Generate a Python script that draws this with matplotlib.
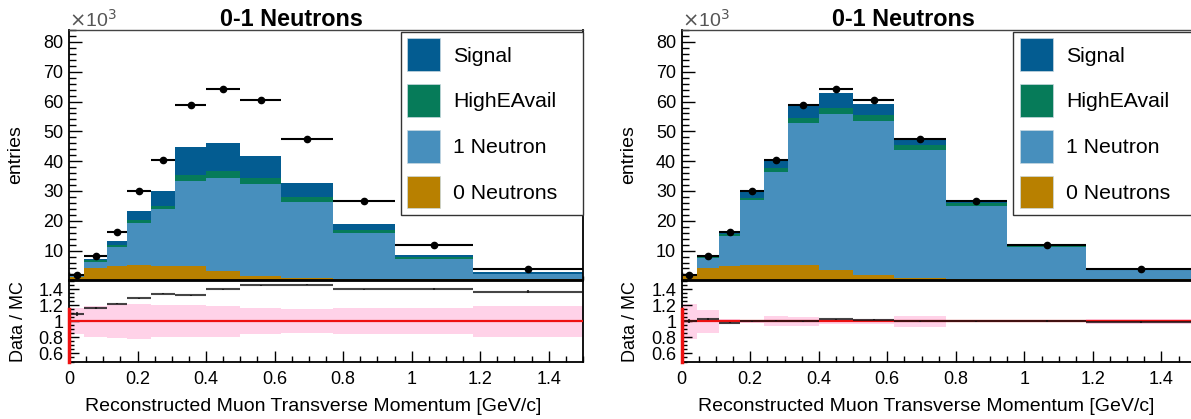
import matplotlib
matplotlib.use('Agg')
import matplotlib.pyplot as plt
import numpy as np
from matplotlib.patches import Patch
from matplotlib.ticker import MultipleLocator, FormatStrFormatter

plt.rcParams['font.family'] = ['Liberation Sans', 'DejaVu Sans']

# ---------------- data (entries in units of 10^3) ----------------
bin_edges = [0.0, 0.045, 0.11, 0.17, 0.24, 0.31, 0.40, 0.50, 0.62, 0.77, 0.95, 1.18, 1.5]
data_k = [1.9, 8.3, 16.2, 30.0, 40.4, 59.0, 64.3, 60.4, 47.4, 26.5, 11.8, 3.97]

# left panel (untuned MC)
left_zero_neutrons = [1.3, 4.2, 4.7, 5.1, 4.9, 4.9, 3.05, 1.5, 0.8, 0.6, 0.6, 0.4]
left_one_neutron = [0.25, 1.9, 6.5, 14.0, 18.9, 28.6, 31.45, 31.0, 25.6, 15.3, 6.5, 1.65]
left_high_eavail = [0.05, 0.6, 0.8, 1.3, 1.2, 1.9, 2.1, 2.0, 1.5, 0.9, 0.75, 0.25]
left_signal = [0.15, 0.4, 1.3, 2.9, 5.1, 9.2, 9.4, 7.3, 4.7, 2.2, 0.55, 0.6]
left_band = [0.16, 0.19, 0.21, 0.22, 0.20, 0.20, 0.19, 0.16, 0.15, 0.16, 0.16, 0.19]

# right panel (tuned MC)
right_zero_neutrons = [1.5, 4.3, 4.8, 5.3, 5.1, 5.15, 3.5, 1.7, 0.9, 0.6, 0.5, 0.4]
right_one_neutron = [0.25, 3.1, 10.2, 21.6, 31.4, 47.55, 52.4, 51.7, 42.8, 24.3, 10.65, 3.2]
right_high_eavail = [0.05, 0.3, 0.7, 0.6, 1.3, 1.9, 2.1, 2.0, 1.7, 0.9, 0.35, 0.15]
right_signal = [0.1, 0.4, 0.8, 2.5, 2.3, 4.5, 4.8, 3.8, 2.1, 0.7, 0.25, 0.25]
right_band = [0.22, 0.14, 0.03, 0.02, 0.06, 0.055, 0.03, 0.03, 0.07, 0.01, 0.01, 0.03]

labels = ['Signal', 'HighEAvail', '1 Neutron', '0 Neutrons']
colors = {'Signal': '#035c91', 'HighEAvail': '#067b59', '1 Neutron': '#478fbd', '0 Neutrons': '#b88000'}

title_text = '0-1 Neutrons'
xlabel_text = 'Reconstructed Muon Transverse Momentum [GeV/c]'

FW, FH = 1191, 419
fig = plt.figure(figsize=(FW / 100, FH / 100), dpi=100)


def frac_x(px):
    return px / FW


def frac_y(py):
    return 1 - py / FH


def draw(left_px, zero_n, one_n, hea, sig, band):
    edges = np.array(bin_edges)
    widths = np.diff(edges)
    centers = edges[:-1] + widths / 2
    data = np.array(data_k)
    W = 514 / FW
    ax = fig.add_axes([frac_x(left_px), frac_y(279.5), W, (279.5 - 30) / FH])
    rax = fig.add_axes([frac_x(left_px), frac_y(361.5), W, (361.5 - 281) / FH])

    bottom = np.zeros(len(data))
    for name, vals in [('0 Neutrons', zero_n), ('1 Neutron', one_n),
                       ('HighEAvail', hea), ('Signal', sig)]:
        v = np.array(vals)
        ax.bar(edges[:-1], v, width=widths, bottom=bottom, align='edge',
               color=colors[name], linewidth=0, zorder=2)
        bottom = bottom + v
    total = bottom
    ax.errorbar(centers, data, xerr=widths / 2, yerr=np.sqrt(data * 1000) / 1000,
                fmt='o', color='black', markersize=4.5, elinewidth=1.5,
                capsize=0, zorder=5)

    ax.set_xlim(0, 1.5)
    ax.set_ylim(0.3, 84)
    ax.yaxis.set_major_locator(MultipleLocator(10))
    ax.yaxis.set_minor_locator(MultipleLocator(2))
    ax.xaxis.set_major_locator(MultipleLocator(0.2))
    ax.xaxis.set_minor_locator(MultipleLocator(0.05))
    ax.tick_params(axis='both', which='both', direction='in', top=False, right=False)
    ax.tick_params(axis='y', which='major', length=9.5, width=1, labelsize=13, pad=4)
    ax.tick_params(axis='y', which='minor', length=5, width=1)
    ax.tick_params(axis='x', which='major', length=5.5, width=1, labelbottom=False)
    ax.tick_params(axis='x', which='minor', length=3, width=1)
    for s in ax.spines.values():
        s.set_linewidth(1.3)
    ax.spines['top'].set_linewidth(1.0)
    ax.spines['top'].set_color('#444444')
    ax.set_ylabel('entries', fontsize=14, va='center')
    ax.yaxis.set_label_coords(-0.104, 0.5)

    ax.text(0.432, 1.016, title_text, transform=ax.transAxes, ha='center',
            va='baseline', fontsize=16.8, fontweight='bold')
    ax.text(0.0, 1.014, r'$\times$10$^{3}$', transform=ax.transAxes, ha='left',
            va='baseline', fontsize=14, color='#555555')

    handles = [Patch(facecolor=colors[l], edgecolor='#c8d8e0', linewidth=0.5) for l in labels]
    leg = ax.legend(handles, labels, loc='upper left',
                    bbox_to_anchor=(0.645, 0.257, 0.355, 0.735), mode='expand',
                    fontsize=15.3, handlelength=1.55, handleheight=2.01,
                    labelspacing=0.6, handletextpad=0.63, borderpad=0.3,
                    borderaxespad=0, fancybox=False, framealpha=1,
                    edgecolor='#333333')
    leg.get_frame().set_linewidth(1.0)
    leg.set_zorder(10)

    # ratio panel
    b = np.array(band)
    rax.bar(edges[:-1], 2 * b, bottom=1 - b, width=widths, align='edge',
            color='#ffd2e8', linewidth=0, zorder=1)
    rax.axhline(1.0, color='#ee1111', linewidth=1.6, zorder=3)
    rax.plot([0, 0], [0.5, 1.15], color='#ee1111', linewidth=2.5, zorder=6, clip_on=False)
    ratio = data / total
    rerr = np.sqrt(data * 1000) / (total * 1000)
    rax.errorbar(centers, ratio, xerr=widths / 2, yerr=rerr, fmt='none',
                 ecolor='#111111', elinewidth=1.5, capsize=0, alpha=0.78, zorder=4)
    rax.set_xlim(0, 1.5)
    rax.set_ylim(0.5, 1.5)
    rax.yaxis.set_minor_locator(MultipleLocator(0.05))
    rax.yaxis.set_major_formatter(FormatStrFormatter('%g'))
    rax.set_yticks([0.6, 0.8, 1.0, 1.2, 1.4])
    rax.xaxis.set_major_locator(MultipleLocator(0.2))
    rax.xaxis.set_minor_locator(MultipleLocator(0.05))
    rax.xaxis.set_major_formatter(FormatStrFormatter('%g'))
    rax.tick_params(axis='both', which='both', direction='in', top=False, right=False)
    rax.tick_params(axis='y', which='major', length=7.5, width=1, labelsize=13, pad=4)
    rax.tick_params(axis='y', which='minor', length=3.5, width=1)
    rax.tick_params(axis='x', which='major', length=8, width=1, labelsize=13, pad=7)
    rax.tick_params(axis='x', which='minor', length=4, width=1)
    for s in rax.spines.values():
        s.set_linewidth(1.3)
    rax.set_ylabel('Data / MC', fontsize=13, va='center')
    rax.yaxis.set_label_coords(-0.099, 0.5)
    rax.set_xlabel(xlabel_text, fontsize=14)
    rax.xaxis.label.set_va('center')
    rax.xaxis.set_label_coords(0.476, -0.565)


draw(69, left_zero_neutrons, left_one_neutron, left_high_eavail, left_signal, left_band)
draw(681.7, right_zero_neutrons, right_one_neutron, right_high_eavail, right_signal, right_band)

fig.savefig('out.png', dpi=100)
